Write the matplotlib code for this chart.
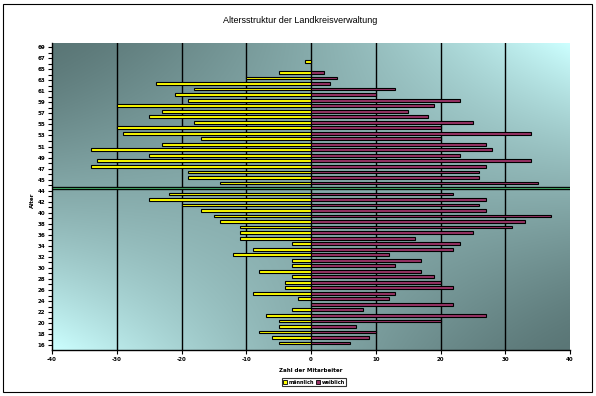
import numpy as np
import matplotlib
matplotlib.use("Agg")
import matplotlib.pyplot as plt
from matplotlib.patches import Rectangle, Patch
from matplotlib.colors import to_rgb

# ---- data (categories from bottom to top) ----
categories = [str(a) for a in range(16, 45)] + [""] + [str(a) for a in range(45, 70)]

male = [5, 6, 8, 5, 5, 7, 3, 0, 2, 9, 4, 4, 3, 8, 3, 3, 12, 9, 3, 11, 11, 11, 14, 15, 17, 20, 25, 22,
        0,
        14, 19, 19, 34, 33, 25, 34, 23, 17, 29, 30, 18, 25, 23, 30, 19, 21, 18, 24, 10, 5,
        0, 1, 0, 0, 0]
female = [6, 9, 10, 7, 20, 27, 8, 22, 12, 13, 22, 20, 19, 17, 13, 17, 12, 22, 23, 16, 25, 31, 33, 37, 27, 26, 27, 22,
          0,
          35, 26, 26, 27, 34, 23, 28, 27, 20, 34, 20, 25, 18, 15, 19, 23, 10, 13, 3, 4, 2,
          0, 0, 0, 0, 0]
separator_category = "44"
x_ticks = [-40, -30, -20, -10, 0, 10, 20, 30, 40]

title = "Altersstruktur der Landkreisverwaltung"
xlabel = "Zahl der Mitarbeiter"
ylabel = "Alter"
legend_labels = ["männlich", "weiblich"]

# ---- styles ----
YELLOW = "#FFFF00"
PLUM = "#993366"
DARK = np.array(to_rgb("#5a7676"))
LIGHT = np.array(to_rgb("#ccffff"))

fig = plt.figure(figsize=(5.96, 3.96), dpi=100)
ax = fig.add_axes([52 / 596, 1 - 350 / 396, (570 - 52) / 596, (350 - 43.3) / 396])

# background gradient (TL dark, TR light, BL light, BR dark)
n = 300
xx, yy = np.meshgrid(np.linspace(0, 1, n), np.linspace(0, 1, n))
v = (xx + yy - 2 * xx * yy) ** 1.35
img = DARK[None, None, :] + v[:, :, None] * (LIGHT - DARK)[None, None, :]
ax.imshow(img, extent=[0, 1, 0, 1], transform=ax.transAxes, aspect="auto",
          zorder=0, interpolation="bilinear")

pos = np.arange(len(categories))
m = np.array(male, dtype=float)
f = np.array(female, dtype=float)
h = 0.5
mm = m > 0
fm = f > 0
ax.barh(pos[mm], -m[mm], height=h, color=YELLOW, edgecolor="black", linewidth=0.8, zorder=3)
ax.barh(pos[fm], f[fm], height=h, color=PLUM, edgecolor="black", linewidth=0.8, zorder=3)

# vertical gridlines
for t in x_ticks[1:-1]:
    ax.axvline(t, color="black", linewidth=1.0, zorder=2)

# separator line (axis crossing)
sep = categories.index(separator_category)
ax.axhline(sep, color="black", linewidth=2.4, zorder=4)
ax.axhline(sep, color="#3a9a5a", linewidth=0.8, zorder=5)

ax.set_xlim(-40, 40)
ax.set_ylim(-1.27, 54.3)
ax.set_xticks(x_ticks)
ax.set_xticklabels([str(t) for t in x_ticks], fontsize=4, fontweight="bold")

lab_off = -0.4
major = [i + lab_off for i in range(0, len(categories), 2)]
ax.set_yticks(major)
ax.set_yticklabels([categories[i] for i in range(0, len(categories), 2)], fontsize=4, fontweight="bold")
ax.set_yticks([i + lab_off for i in range(1, len(categories), 2)], minor=True)
ax.tick_params(axis="y", which="both", length=3, width=0.8, pad=2, direction="out")
ax.tick_params(axis="x", length=3, width=0.8, pad=2, direction="out")

for s in ["top", "right"]:
    ax.spines[s].set_visible(False)
for s in ["left", "bottom"]:
    ax.spines[s].set_linewidth(1.0)
    ax.spines[s].set_zorder(6)

fig.text(0.504, 0.947, title, ha="center", va="center", fontsize=6.5, family="Liberation Sans")
fig.text(311 / 596, 1 - 370 / 396, xlabel, ha="center", va="center", fontsize=4, fontweight="bold")
fig.text(32 / 596, 1 - 200 / 396, ylabel, ha="center", va="center", rotation=90, fontsize=4, fontweight="bold")

handles = [Patch(facecolor=YELLOW, edgecolor="black", linewidth=0.6),
           Patch(facecolor=PLUM, edgecolor="black", linewidth=0.6)]
leg = fig.legend(handles, legend_labels, loc="center", bbox_to_anchor=(314 / 596, 1 - 382 / 396),
                 ncol=2, fontsize=3.6, frameon=True, fancybox=False, handlelength=0.8, handleheight=0.8,
                 handletextpad=0.3, columnspacing=0.4, borderpad=0.25, borderaxespad=0)
leg.get_frame().set_edgecolor("black")
leg.get_frame().set_linewidth(0.8)
for t in leg.get_texts():
    t.set_fontweight("bold")

# chart border
fig.patches.append(Rectangle((3 / 596, 4 / 396), 589 / 596, 388 / 396, transform=fig.transFigure,
                             fill=False, edgecolor="black", linewidth=0.8))

fig.savefig("out.png", dpi=100)
